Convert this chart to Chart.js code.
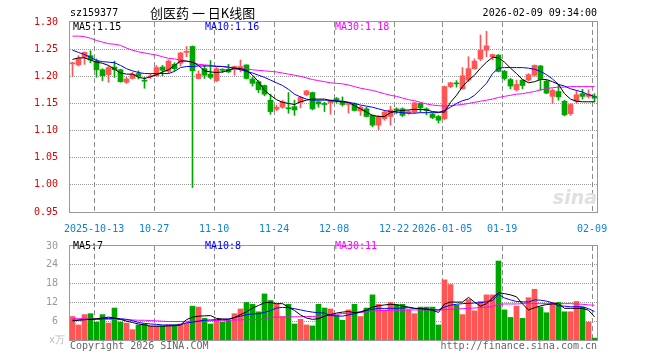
<!DOCTYPE html>
<html>
<head>
<meta charset="utf-8">
<script src="https://cdn.jsdelivr.net/npm/chart.js@4.4.0/dist/chart.umd.min.js"></script>
<style>
  body { margin: 0; background: #fff; width: 660px; height: 360px; position: relative; overflow: hidden; }
  canvas { position: absolute; left: 0; }
  #kline { top: 0; }
  #vol { top: 236px; }
</style>
</head>
<body>
<canvas id="kline" width="660" height="236"></canvas>
<canvas id="vol" width="660" height="124"></canvas>
<script>
// daily K line, 88 trading days (2025-09-29 .. 2026-02-09)
const open = [1.223,1.221,1.235,1.238,1.228,1.212,1.203,1.217,1.212,1.189,
  1.196,1.205,1.192,1.199,1.201,1.217,1.209,1.222,1.224,1.244,
  1.255,1.196,1.214,1.204,1.192,1.212,1.213,1.212,1.213,1.221,
  1.195,1.190,1.183,1.156,1.139,1.143,1.142,1.144,1.152,1.166,
  1.170,1.153,1.149,1.151,1.159,1.154,1.148,1.149,1.136,1.140,
  1.128,1.110,1.122,1.126,1.139,1.140,1.132,1.134,1.150,1.140,
  1.130,1.126,1.122,1.181,1.187,1.177,1.193,1.214,1.232,1.248,
  1.236,1.239,1.209,1.194,1.175,1.193,1.193,1.202,1.219,1.191,
  1.163,1.172,1.154,1.131,1.154,1.168,1.163,1.163];
const close = [1.224,1.233,1.244,1.230,1.212,1.201,1.216,1.212,1.190,1.195,
  1.204,1.200,1.191,1.201,1.216,1.211,1.228,1.214,1.243,1.246,
  1.210,1.204,1.202,1.198,1.214,1.211,1.208,1.218,1.218,1.196,
  1.187,1.175,1.167,1.135,1.143,1.153,1.140,1.138,1.161,1.173,
  1.140,1.149,1.148,1.154,1.156,1.148,1.151,1.137,1.143,1.126,
  1.110,1.126,1.134,1.138,1.138,1.128,1.135,1.151,1.142,1.137,
  1.124,1.119,1.181,1.188,1.186,1.201,1.214,1.228,1.248,1.256,
  1.240,1.209,1.196,1.182,1.185,1.183,1.203,1.220,1.194,1.169,
  1.174,1.162,1.129,1.148,1.166,1.163,1.167,1.160];
const high = [1.226,1.238,1.245,1.247,1.232,1.214,1.219,1.228,1.213,1.198,
  1.207,1.210,1.198,1.204,1.220,1.220,1.230,1.225,1.244,1.255,
  1.256,1.210,1.220,1.229,1.216,1.214,1.222,1.219,1.230,1.221,
  1.198,1.192,1.184,1.167,1.147,1.156,1.170,1.156,1.163,1.174,
  1.171,1.155,1.152,1.155,1.161,1.162,1.152,1.151,1.145,1.143,
  1.129,1.128,1.137,1.145,1.142,1.142,1.137,1.152,1.151,1.142,
  1.132,1.128,1.182,1.189,1.192,1.216,1.236,1.232,1.276,1.283,
  1.241,1.240,1.211,1.196,1.193,1.194,1.205,1.221,1.220,1.193,
  1.177,1.185,1.156,1.150,1.174,1.176,1.175,1.168];
const low = [1.200,1.219,1.222,1.225,1.198,1.192,1.189,1.198,1.189,1.187,
  1.195,1.195,1.178,1.196,1.200,1.201,1.205,1.210,1.219,1.236,
  0.995,1.195,1.196,1.195,1.190,1.207,1.207,1.202,1.208,1.195,
  1.182,1.170,1.164,1.130,1.137,1.141,1.132,1.128,1.142,1.164,
  1.138,1.143,1.135,1.130,1.151,1.145,1.132,1.136,1.128,1.125,
  1.107,1.102,1.119,1.110,1.131,1.126,1.130,1.132,1.134,1.129,
  1.122,1.114,1.120,1.179,1.180,1.176,1.190,1.213,1.229,1.236,
  1.230,1.208,1.193,1.177,1.173,1.177,1.191,1.200,1.174,1.168,
  1.150,1.156,1.127,1.128,1.150,1.158,1.160,1.153];
const ma5 = [1.231,1.234,1.234,1.230,1.226,1.224,1.220,1.213,1.206,1.204,
  1.204,1.198,1.196,1.199,1.203,1.208,1.212,1.220,1.228,1.228,
  1.226,1.220,1.210,1.208,1.207,1.208,1.211,1.215,1.214,1.211,
  1.202,1.190,1.174,1.165,1.157,1.152,1.150,1.148,1.153,1.156,
  1.158,1.158,1.158,1.155,1.154,1.153,1.152,1.146,1.140,1.134,
  1.128,1.126,1.126,1.133,1.136,1.137,1.138,1.139,1.139,1.138,
  1.135,1.134,1.134,1.152,1.165,1.181,1.193,1.202,1.215,1.226,
  1.235,1.234,1.226,1.215,1.205,1.194,1.188,1.190,1.194,1.194,
  1.190,1.185,1.168,1.158,1.154,1.153,1.153,1.153];
const ma10 = [1.248,1.244,1.240,1.235,1.229,1.227,1.226,1.225,1.220,1.214,
  1.210,1.207,1.205,1.205,1.205,1.205,1.205,1.209,1.216,1.218,
  1.218,1.219,1.219,1.219,1.218,1.218,1.217,1.215,1.212,1.209,
  1.206,1.202,1.198,1.193,1.188,1.183,1.176,1.167,1.162,1.158,
  1.156,1.156,1.156,1.156,1.155,1.154,1.152,1.150,1.147,1.145,
  1.143,1.140,1.137,1.135,1.134,1.133,1.132,1.132,1.133,1.133,
  1.133,1.133,1.137,1.143,1.150,1.155,1.158,1.165,1.176,1.187,
  1.205,1.215,1.216,1.216,1.216,1.216,1.215,1.213,1.209,1.203,
  1.195,1.185,1.182,1.177,1.174,1.171,1.166,1.163];
const ma30 = [1.274,1.274,1.273,1.270,1.266,1.263,1.260,1.259,1.257,1.252,
  1.248,1.245,1.243,1.241,1.239,1.236,1.233,1.232,1.230,1.228,
  1.226,1.222,1.221,1.220,1.219,1.218,1.216,1.215,1.214,1.213,
  1.212,1.211,1.210,1.209,1.208,1.206,1.204,1.202,1.200,1.197,
  1.194,1.192,1.190,1.188,1.187,1.186,1.184,1.181,1.178,1.176,
  1.174,1.171,1.168,1.165,1.163,1.160,1.157,1.155,1.152,1.149,
  1.147,1.146,1.145,1.146,1.147,1.148,1.150,1.152,1.154,1.156,
  1.158,1.161,1.163,1.165,1.167,1.168,1.170,1.172,1.175,1.177,
  1.179,1.180,1.180,1.181,1.181,1.181,1.181,1.181];

// volume (万)
const volume = [7.5,4.8,8.1,8.4,5.7,8.1,5.4,10.2,5.7,5.4,
  3.3,4.8,5.1,4.5,4.5,4.5,4.8,4.8,5.1,5.4,
  10.8,10.5,6.9,5.1,6.3,5.7,6.3,8.4,9.9,12.0,
  11.4,9.0,14.7,12.6,11.4,7.5,11.4,5.1,6.6,4.8,
  4.5,11.4,10.2,9.9,7.8,6.3,9.6,11.4,7.5,10.2,
  14.4,11.4,9.6,12.0,11.4,11.4,9.6,8.4,10.5,10.5,
  10.5,4.8,19.2,17.7,11.1,8.1,12.9,9.3,12.3,14.4,
  14.4,25.2,9.6,7.2,10.8,6.9,13.5,16.2,10.5,8.7,
  12.0,12.0,9.0,9.0,12.3,10.5,5.7,0.6];
const vma5 = [6.1,6.3,6.5,6.6,6.8,7.0,7.3,7.0,6.6,6.0,
  5.6,5.1,4.8,4.4,4.4,4.4,4.5,4.6,4.8,6.5,
  7.3,7.6,7.7,7.8,6.9,6.7,6.6,7.2,8.1,9.0,
  10.2,11.0,11.9,12.0,11.6,11.6,10.5,9.4,8.0,7.0,
  6.6,6.8,7.6,8.1,8.6,8.9,9.1,8.7,9.0,9.6,
  10.5,10.9,11.2,11.4,11.2,10.8,10.5,10.1,10.0,9.8,
  9.5,8.8,11.5,12.1,12.1,12.1,13.6,12.1,10.8,11.6,
  13.4,15.1,14.8,14.4,13.8,11.5,9.6,10.3,10.9,11.3,
  11.5,11.6,10.1,10.1,10.1,10.1,9.5,7.4];
const vma10 = [6.3,6.4,6.5,6.6,6.6,6.7,6.9,6.9,6.8,6.6,
  6.2,5.6,5.3,5.1,5.0,4.8,4.8,4.8,4.9,5.5,
  5.7,6.0,6.3,6.4,6.5,6.6,6.7,7.1,7.6,8.1,
  8.3,8.4,8.8,9.4,10.2,10.4,10.3,10.0,9.6,9.2,
  8.9,8.7,8.6,7.8,7.7,7.6,8.0,8.4,8.9,9.4,
  9.8,10.1,10.1,10.1,10.1,10.2,10.3,10.1,10.0,9.9,
  9.7,9.6,10.5,11.1,11.4,11.6,11.7,11.8,11.9,12.2,
  12.6,14.6,13.4,12.8,12.3,12.2,12.1,12.8,12.7,12.4,
  11.9,10.9,10.8,10.6,10.6,10.6,10.0,9.1];
const vma30 = [6.8,6.8,6.8,6.7,6.7,6.7,6.6,6.6,6.5,6.4,
  6.4,6.3,6.3,6.2,6.1,6.0,5.9,5.9,5.9,6.0,
  6.0,6.0,6.0,6.1,6.2,6.2,6.3,6.4,6.4,6.5,
  6.5,6.5,6.6,7.3,7.3,7.3,7.4,7.4,7.4,7.5,
  7.5,7.6,7.7,8.1,8.2,8.4,8.5,8.6,8.8,9.0,
  9.2,9.4,9.4,9.5,9.5,9.5,9.6,9.6,9.6,9.6,
  9.6,9.6,9.7,9.8,9.9,10.0,10.1,10.2,10.4,10.5,
  10.7,11.4,11.5,11.5,11.5,11.6,11.6,11.6,11.6,11.6,
  11.6,11.6,11.6,11.6,11.5,11.4,11.2,11.1];

// axis ticks
const tickIdx = [4, 14, 24, 34, 44, 54, 62, 72, 87];
const tickText = ['2025-10-13', '10-27', '11-10', '11-24', '12-08', '12-22', '2026-01-05', '01-19', '02-09'];
const priceTicks = [0.95, 1.00, 1.05, 1.10, 1.15, 1.20, 1.25, 1.30];
const volTicks = [0, 6, 12, 18, 24, 30];

const code = 'sz159377';
const title = '创医药 一 日K线图';
const stamp = '2026-02-09 09:34:00';
const priceLabels = ['MA5:1.15', 'MA10:1.16', 'MA30:1.18'];
const volLabels = ['MA5:7', 'MA10:8', 'MA30:11'];

const RED = '#ff5555', GREEN = '#00a600';
const MONO = '10px "DejaVu Sans Mono", monospace';
const monoFont = { family: '"DejaVu Sans Mono", monospace', size: 10 };
const maColors = ['#000000', '#0000ff', '#ff00ff'];

const n = close.length;
const colors = close.map((c, i) => c >= open[i] ? RED : GREEN);
const xy = arr => arr.map((v, i) => ({ x: i, y: v }));
// shift so each 6px slot starts on a whole pixel
const xMin = -2.5 / 6, xMax = n - 2.5 / 6;

function xAxis(showLabels) {
  return {
    type: 'linear', min: xMin, max: xMax, offset: false,
    afterBuildTicks: s => { s.ticks = tickIdx.map(i => ({ value: i - 0.4 })); },
    afterFit: s => { s.height = showLabels ? 24 : 20; },
    ticks: {
      display: showLabels, autoSkip: false, maxRotation: 0, padding: 3,
      color: '#0a84d6', font: monoFont,
      callback: (v, i) => tickText[i]
    },
    grid: { display: false },
    border: { display: false }
  };
}

function yAxis(min, max, ticks, color, fmt) {
  return {
    min: min, max: max,
    afterBuildTicks: s => { s.ticks = ticks.map(v => ({ value: v })); },
    afterFit: s => { s.width = 70; },
    ticks: { color: color, padding: 4, font: monoFont, callback: fmt },
    grid: { display: false },
    border: { display: false }
  };
}

function maLines(a, b, c) {
  return [a, b, c].map((arr, k) => ({
    type: 'line', data: xy(arr), borderColor: maColors[k], borderWidth: 1,
    pointRadius: 0, tension: 0, fill: false, order: 0
  }));
}

// dashed day lines and dotted value lines, slid in behind what is already drawn
function drawGrid(chart, valueTicks) {
  const ctx = chart.ctx, a = chart.chartArea;
  const xs = chart.scales.x, ys = chart.scales.y;
  const top = Math.round(a.top), bottom = Math.round(a.bottom);
  const left = Math.round(a.left), right = Math.round(a.right);
  ctx.save();
  ctx.globalCompositeOperation = 'destination-over';
  ctx.fillStyle = '#8c8c8c';
  for (const i of tickIdx) {
    const px = Math.floor(xs.getPixelForValue(i - 0.4));
    for (let y = top; y < bottom; y += 8) ctx.fillRect(px, y, 1, Math.min(5, bottom - y));
  }
  ctx.fillStyle = '#9a9a9a';
  for (const v of valueTicks) {
    const py = Math.floor(ys.getPixelForValue(v));
    if (py < top + 2 || py > bottom - 2) continue;
    for (let x = left; x < right; x += 2) ctx.fillRect(x, py, 1, 1);
  }
  ctx.restore();
}

function drawFrame(ctx, a) {
  ctx.fillStyle = '#999';
  const l = Math.round(a.left) - 1, r = Math.round(a.right) - 1;
  const t = Math.round(a.top) - 1, b = Math.round(a.bottom);
  ctx.fillRect(l, t, r - l + 1, 1);
  ctx.fillRect(l, b, r - l + 1, 1);
  ctx.fillRect(l, t, 1, b - t + 1);
  ctx.fillRect(r, t, 1, b - t + 1);
}

function drawMaLabels(ctx, texts, y) {
  const xs = [73, 205, 335];
  ctx.font = MONO;
  ctx.textAlign = 'left';
  texts.forEach((t, k) => { ctx.fillStyle = maColors[k]; ctx.fillText(t, xs[k], y); });
}

const klineDecor = {
  id: 'klineDecor',
  afterDraw(chart) {
    const ctx = chart.ctx;
    drawGrid(chart, priceTicks);
    ctx.save();
    drawFrame(ctx, chart.chartArea);
    ctx.textBaseline = 'middle';
    ctx.fillStyle = '#000';
    ctx.font = MONO;
    ctx.textAlign = 'left';
    ctx.fillText(code, 70, 13);
    ctx.font = '13px "Noto Sans CJK SC", sans-serif';
    ctx.fillText(title, 150, 13);
    ctx.font = MONO;
    ctx.textAlign = 'right';
    ctx.fillText(stamp, 597, 13);
    drawMaLabels(ctx, priceLabels, 27);
    ctx.font = 'italic bold 19px "DejaVu Sans", sans-serif';
    ctx.fillStyle = '#e0e0e0';
    ctx.textAlign = 'right';
    ctx.fillText('sina', 597, 199);
    ctx.restore();
  }
};

const volDecor = {
  id: 'volDecor',
  afterDraw(chart) {
    const ctx = chart.ctx;
    drawGrid(chart, volTicks);
    ctx.save();
    drawFrame(ctx, chart.chartArea);
    ctx.textBaseline = 'middle';
    drawMaLabels(ctx, volLabels, 10);
    ctx.font = MONO;
    ctx.fillStyle = '#bbb';
    ctx.textAlign = 'center';
    ctx.fillText('x万', 57, 104);
    ctx.fillStyle = '#666';
    ctx.textAlign = 'left';
    ctx.fillText('Copyright 2026 SINA.COM', 70, 110);
    ctx.textAlign = 'right';
    ctx.fillText('http://finance.sina.com.cn', 597, 110);
    ctx.restore();
  }
};

const common = {
  responsive: false, animation: false, events: [],
  plugins: { legend: { display: false }, tooltip: { enabled: false } }
};

new Chart(document.getElementById('kline'), {
  type: 'bar',
  data: {
    datasets: [
      ...maLines(ma5, ma10, ma30),
      {
        data: open.map((o, i) => ({ x: i, y: [o, close[i]] })),
        backgroundColor: colors, barThickness: 5, minBarLength: 1,
        grouped: false, order: 1
      },
      {
        data: low.map((l, i) => ({ x: i, y: [l, high[i]] })),
        backgroundColor: colors, barThickness: 1,
        grouped: false, order: 2
      }
    ]
  },
  options: {
    ...common,
    layout: { padding: { left: 0, right: 62, top: 22, bottom: 0 } },
    scales: {
      x: xAxis(true),
      y: yAxis(0.95, 1.30, priceTicks, '#e00000', v => v.toFixed(2))
    }
  },
  plugins: [klineDecor]
});

new Chart(document.getElementById('vol'), {
  type: 'bar',
  data: {
    datasets: [
      ...maLines(vma5, vma10, vma30),
      {
        data: xy(volume), backgroundColor: colors, barThickness: 5,
        grouped: false, order: 1
      }
    ]
  },
  options: {
    ...common,
    layout: { padding: { left: 0, right: 62, top: 4, bottom: 0 } },
    scales: {
      x: xAxis(false),
      y: yAxis(0, 30, volTicks, '#999', v => v === 0 ? '' : String(v))
    }
  },
  plugins: [volDecor]
});
</script>
</body>
</html>
